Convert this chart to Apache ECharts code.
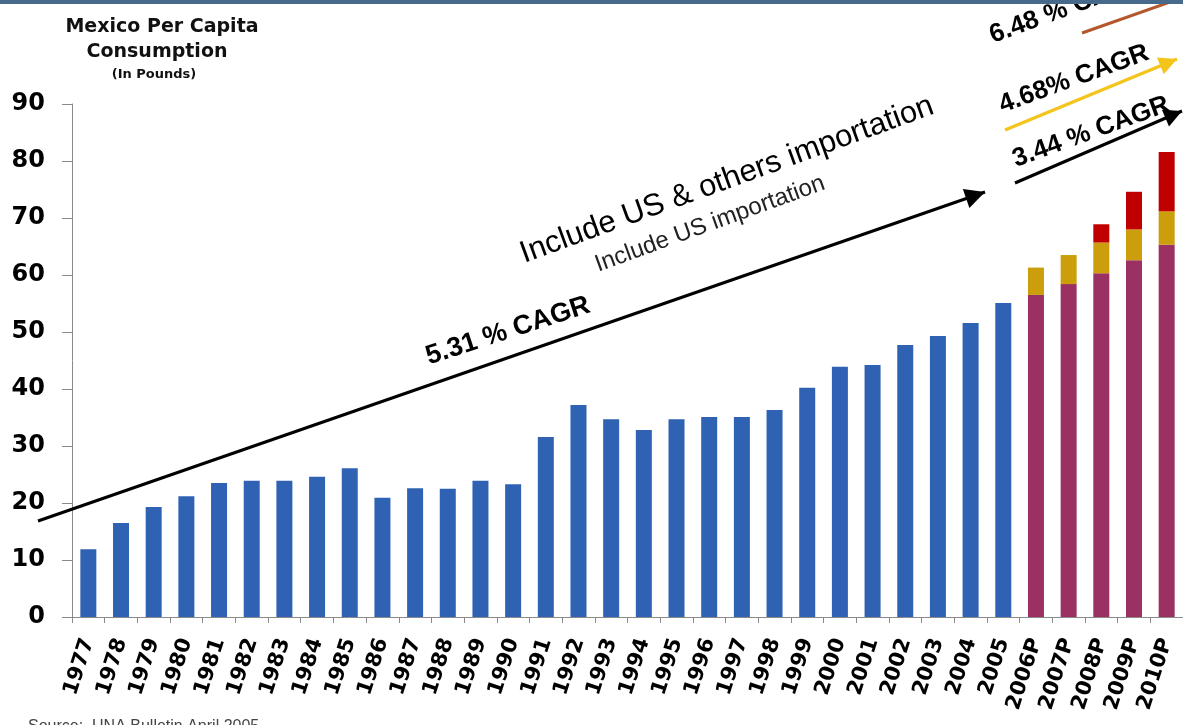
<!DOCTYPE html>
<html>
<head>
<meta charset="utf-8">
<script src="https://cdn.jsdelivr.net/npm/echarts@6/dist/echarts.min.js"></script>
<style>
html,body{margin:0;padding:0;background:#fff;}
#chart{width:1183px;height:725px;}
</style>
</head>
<body>
<div id="chart"></div>
<script>
// ---- data ----
const categories = ['1977','1978','1979','1980','1981','1982','1983','1984','1985','1986','1987','1988','1989','1990','1991','1992','1993','1994','1995','1996','1997','1998','1999','2000','2001','2002','2003','2004','2005','2006P','2007P','2008P','2009P','2010P'];
const historic = [11.9,16.5,19.3,21.2,23.5,23.9,23.9,24.6,26.1,20.9,22.6,22.5,23.9,23.3,31.6,37.2,34.7,32.8,34.7,35.1,35.1,36.3,40.2,43.9,44.2,47.7,49.3,51.6,55.1,null,null,null,null,null];
const projectedBase = [null,null,null,null,null,null,null,null,null,null,null,null,null,null,null,null,null,null,null,null,null,null,null,null,null,null,null,null,null,56.5,58.4,60.3,62.6,65.3];
const projectedUS = [null,null,null,null,null,null,null,null,null,null,null,null,null,null,null,null,null,null,null,null,null,null,null,null,null,null,null,null,null,4.8,5.1,5.4,5.4,5.9];
const projectedOthers = [null,null,null,null,null,null,null,null,null,null,null,null,null,null,null,null,null,null,null,null,null,null,null,null,null,null,null,null,null,null,null,3.2,6.6,10.4];
const yTicks = [0,10,20,30,40,50,60,70,80,90];
const titleLines = ['Mexico Per Capita','Consumption','(In Pounds)'];
const cagrLabels = ['5.31 % CAGR','6.48 % CAGR','4.68% CAGR','3.44 % CAGR'];
const noteLabels = ['Include US & others importation','Include US importation'];
const sourceText = 'Source:  UNA Bulletin April 2005';

const chart = echarts.init(document.getElementById('chart'));

function arrow(x1,y1,x2,y2,color,w,head){
  const els = [{type:'line',shape:{x1:x1,y1:y1,x2:x2,y2:y2},style:{stroke:color,lineWidth:w},z:10}];
  if(head){
    const a = Math.atan2(y2-y1,x2-x1);
    const L = head, W = head*0.5;
    const bx = x2 - L*Math.cos(a), by = y2 - L*Math.sin(a);
    els.push({type:'polygon',shape:{points:[[x2,y2],[bx + W*Math.sin(a), by - W*Math.cos(a)],[bx - W*Math.sin(a), by + W*Math.cos(a)]]},style:{fill:color},z:10});
  }
  return els;
}
function rtext(t,x,y,deg,font,color){
  return {type:'text',x:x,y:y,rotation:deg*Math.PI/180,z:11,
    style:{text:t,font:font,fill:color||'#000',align:'center',verticalAlign:'middle'}};
}

const graphics = [].concat(
  [{type:'rect',shape:{x:0,y:0,width:1183,height:4},style:{fill:'#46698c'},z:20}],
  [
    {type:'text',x:162,y:27,style:{text:titleLines[0],font:'bold 19px "DejaVu Sans"',fill:'#111',align:'center',verticalAlign:'middle'}},
    {type:'text',x:157,y:52,style:{text:titleLines[1],font:'bold 19px "DejaVu Sans"',fill:'#111',align:'center',verticalAlign:'middle'}},
    {type:'text',x:154,y:75,style:{text:titleLines[2],font:'bold 13px "DejaVu Sans"',fill:'#111',align:'center',verticalAlign:'middle'}}
  ],
  arrow(38,521,985,192,'#000',3,20),
  [rtext(cagrLabels[0],508,331,18,'bold 27px Arial','#000'),
   rtext(noteLabels[0],727,180,20,'31px Arial','#000'),
   rtext(noteLabels[1],710,224,20,'24px Arial','#222')],
  arrow(1082,33,1190,-5,'#b4582c',3,0),
  arrow(1005,130,1177,59,'#f3c51c',3.5,18),
  arrow(1015,183,1182,111,'#000',3,18),
  [rtext(cagrLabels[1],1068,8,20,'bold 26px Arial','#000'),
   rtext(cagrLabels[2],1074,79,20,'bold 26px Arial','#000'),
   rtext(cagrLabels[3],1091,132,20,'bold 26px Arial','#000')],
  [{type:'text',x:28,y:719,style:{text:sourceText,font:'16px Arial',fill:'#444',align:'left',verticalAlign:'top'}}]
);

chart.setOption({
  backgroundColor:'#ffffff',
  animation:false,
  grid:{left:72,right:-8,top:104,bottom:108,containLabel:false},
  xAxis:{
    type:'category',data:categories,
    axisLine:{show:true,lineStyle:{color:'#8a8a8a',width:1}},
    axisTick:{show:true,alignWithLabel:false,length:6,lineStyle:{color:'#8a8a8a'}},
    axisLabel:{rotate:72,margin:22,interval:0,color:'#000',fontFamily:'DejaVu Sans',fontWeight:'bold',fontSize:21}
  },
  yAxis:{
    type:'value',min:0,max:90,interval:10,
    axisLine:{show:true,lineStyle:{color:'#8a8a8a',width:1}},
    axisTick:{show:true,length:10,lineStyle:{color:'#8a8a8a'}},
    splitLine:{show:false},
    axisLabel:{margin:27,color:'#000',fontFamily:'DejaVu Sans',fontWeight:'bold',fontSize:24,
      formatter:function(v){return yTicks.indexOf(v)>=0?String(v):'';}}
  },
  series:[
    {name:'Historic',type:'bar',stack:'c',data:historic,barWidth:16,itemStyle:{color:'#2f62b3'}},
    {name:'Projected base',type:'bar',stack:'c',data:projectedBase,barWidth:16,itemStyle:{color:'#9b3163'}},
    {name:'US importation',type:'bar',stack:'c',data:projectedUS,barWidth:16,itemStyle:{color:'#cc9e0c'}},
    {name:'Others importation',type:'bar',stack:'c',data:projectedOthers,barWidth:16,itemStyle:{color:'#c00000'}}
  ],
  graphic:graphics
});
</script>
</body>
</html>
